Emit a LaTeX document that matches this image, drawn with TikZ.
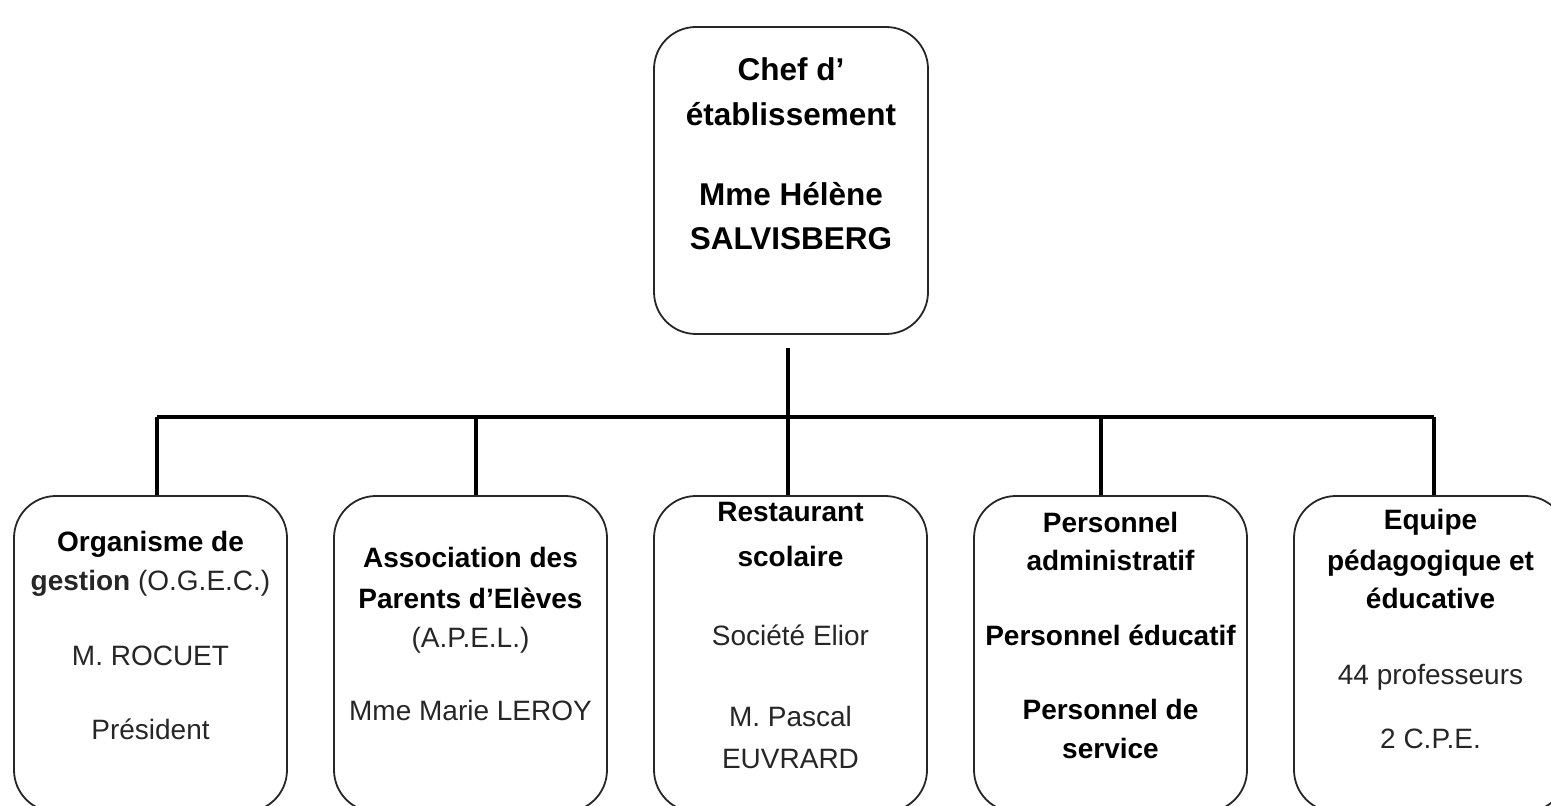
\documentclass[tikz,border=0pt]{standalone}
\usepackage{fontspec}
\setmainfont{Liberation Sans}
\begin{document}
\begin{tikzpicture}[x=0.5pt,y=-0.5pt,
  box/.style={draw=black!85, line width=0.9pt, rounded corners=21pt, inner sep=0pt},
  conn/.style={draw=black, line width=1.8pt},
  tb/.style={font=\bfseries\fontsize{15.75}{19}\selectfont, inner sep=0pt, anchor=base},
  bt/.style={font=\bfseries\fontsize{14}{17}\selectfont, inner sep=0pt, anchor=base},
  rt/.style={font=\fontsize{14}{17}\selectfont, text=black!85, inner sep=0pt, anchor=base}]
\useasboundingbox (0,0) rectangle (1551,806);
\clip (0,0) rectangle (1551,806);
% top box
\node[box, minimum width=137pt, minimum height=153.5pt] (top) at (791,180.5) {};
\node[tb] (t1) at (791,81) {Chef d’};
\node[tb] (t2) at (791,126) {établissement};
\node[tb] (t3) at (791,206) {Mme Hélène};
\node[tb] (t4) at (791,250) {SALVISBERG};
% bottom boxes
\foreach \i/\x in {1/150.5,2/470.5,3/790.5,4/1110.5,5/1430.5}
  \node[box, minimum width=136.5pt, minimum height=158pt] (b\i) at (\x,654) {};
% box 1
\node[bt] (a1) at (150.5,551) {Organisme de};
\node[rt] (a2) at (150.5,590) {\textbf{gestion} (O.G.E.C.)};
\node[rt] (a3) at (150.5,665) {M. ROCUET};
\node[rt] (a4) at (150.5,739) {Président};
% box 2
\node[bt] (c1) at (470.5,567) {Association des};
\node[bt] (c2) at (470.5,608) {Parents d’Elèves};
\node[rt] (c3) at (470.5,647) {(A.P.E.L.)};
\node[rt] (c4) at (470.5,720) {Mme Marie LEROY};
% box 3
\node[bt] (d1) at (790.5,521) {Restaurant};
\node[bt] (d2) at (790.5,566) {scolaire};
\node[rt] (d3) at (790.5,645) {Société Elior};
\node[rt] (d4) at (790.5,726) {M. Pascal};
\node[rt] (d5) at (790.5,768) {EUVRARD};
% box 4
\node[bt] (e1) at (1110.5,532) {Personnel};
\node[bt] (e2) at (1110.5,570) {administratif};
\node[bt] (e3) at (1110.5,645) {Personnel éducatif};
\node[bt] (e4) at (1110.5,719) {Personnel de};
\node[bt] (e5) at (1110.5,758) {service};
% box 5
\node[bt] (f1) at (1430.5,530) {Equipe};
\node[bt] (f2) at (1430.5,570) {pédagogique et};
\node[bt] (f3) at (1430.5,608) {éducative};
\node[rt] (f4) at (1430.5,684) {44 professeurs};
\node[rt] (f5) at (1430.5,748) {2 C.P.E.};
% connectors
\coordinate (stem) at (788,348);
\coordinate (j1) at (157,417);
\coordinate (j2) at (476,417);
\coordinate (j3) at (788,417);
\coordinate (j4) at (1101,417);
\coordinate (j5) at (1434,417);
\draw[conn] (stem) -- (j3);
\draw[conn] (j1) -- (j5);
\foreach \i in {1,...,5}
  \draw[conn] (j\i) -- (j\i |- b\i.north);
\end{tikzpicture}
\end{document}
